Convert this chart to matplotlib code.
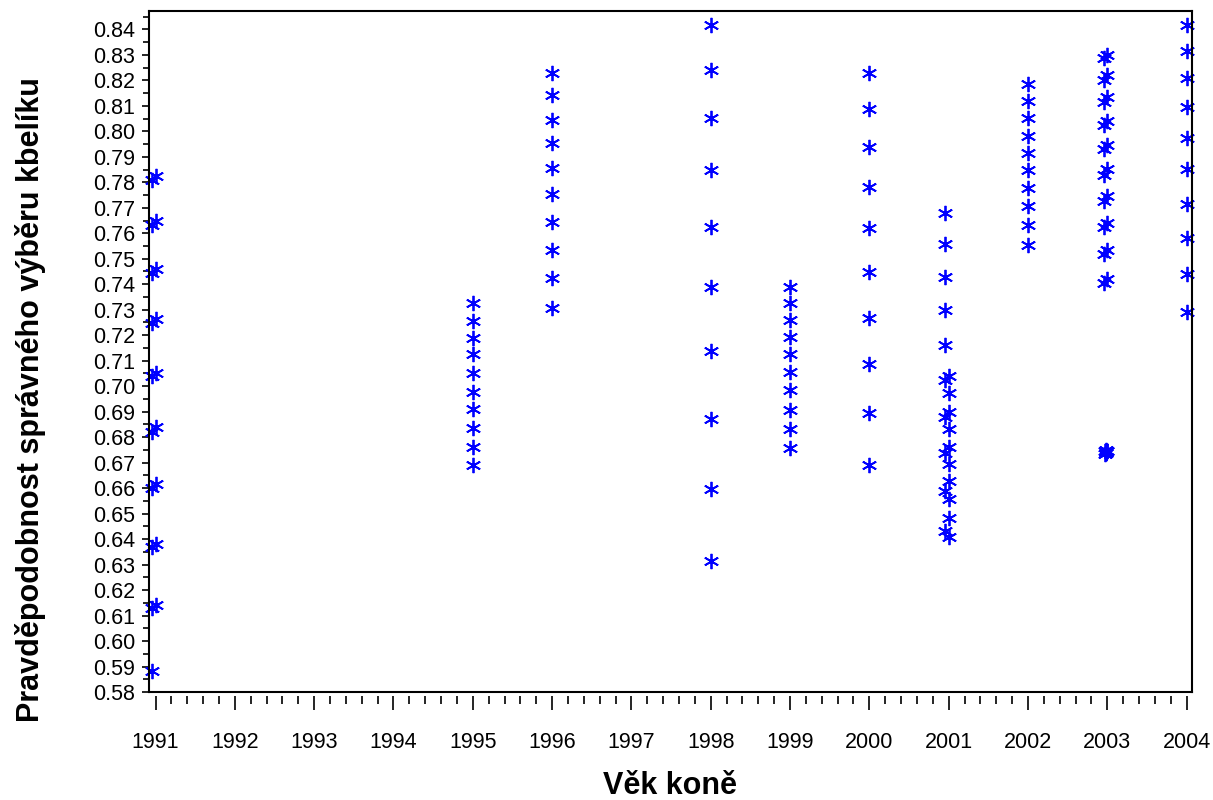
import numpy as np
import matplotlib
matplotlib.use('Agg')
import matplotlib.pyplot as plt
from matplotlib.ticker import MultipleLocator

plt.rcParams['font.family'] = ['Liberation Sans', 'DejaVu Sans']

# --- data ---
x_1991a = 1990.95
y_1991a = [0.7809, 0.7633, 0.7445, 0.7249, 0.7038, 0.6822, 0.6600, 0.6367, 0.6129, 0.5881]
x_1991b = 1991.0
y_1991b = [0.7825, 0.7648, 0.7459, 0.7264, 0.7053, 0.6838, 0.6616, 0.6382, 0.6142]

x_1995 = 1995.0
y_1995 = [0.7325, 0.7256, 0.7191, 0.7125, 0.7053, 0.6979, 0.6910, 0.6835, 0.6763, 0.6691]

x_1996 = 1996.0
y_1996 = [0.8230, 0.8142, 0.8046, 0.7953, 0.7855, 0.7753, 0.7645, 0.7534, 0.7424, 0.7306]

x_1998 = 1998.0
y_1998 = [0.8417, 0.8240, 0.8052, 0.7848, 0.7625, 0.7389, 0.7138, 0.6871, 0.6597, 0.6315]

x_1999 = 1999.0
y_1999 = [0.7389, 0.7327, 0.7260, 0.7193, 0.7127, 0.7056, 0.6986, 0.6907, 0.6832, 0.6758]

x_2000 = 2000.0
y_2000 = [0.8227, 0.8086, 0.7937, 0.7783, 0.7620, 0.7449, 0.7269, 0.7087, 0.6894, 0.6691]

x_2001a = 2000.96
y_2001a = [0.7681, 0.7558, 0.7430, 0.7299, 0.7162, 0.7025, 0.6881, 0.6737, 0.6587, 0.6430]
x_2001b = 2001.0
y_2001b = [0.7038, 0.6973, 0.6900, 0.6831, 0.6763, 0.6695, 0.6626, 0.6557, 0.6482, 0.6410]

x_2002 = 2002.0
y_2002 = [0.8184, 0.8119, 0.8053, 0.7983, 0.7916, 0.7848, 0.7779, 0.7707, 0.7633, 0.7554]

x_2003a = 2002.96
y_2003a = [0.8286, 0.8201, 0.8116, 0.8025, 0.7929, 0.7829, 0.7728, 0.7624, 0.7518, 0.7404]
x_2003b = 2003.0
y_2003b = [0.8299, 0.8221, 0.8133, 0.8040, 0.7946, 0.7851, 0.7746, 0.7642, 0.7535, 0.7420]
x_2003c = [2002.97, 2002.98, 2002.99, 2003.0, 2002.97, 2002.98, 2002.99, 2003.0]
y_2003c = [0.6735, 0.6738, 0.6741, 0.6744, 0.6747, 0.6750, 0.6739, 0.6745]

x_2004 = 2004.0
y_2004 = [0.8417, 0.8315, 0.8210, 0.8096, 0.7975, 0.7851, 0.7714, 0.7583, 0.7439, 0.7293]

groups = [
    (x_1991a, y_1991a), (x_1991b, y_1991b), (x_1995, y_1995), (x_1996, y_1996),
    (x_1998, y_1998), (x_1999, y_1999), (x_2000, y_2000), (x_2001a, y_2001a),
    (x_2001b, y_2001b), (x_2002, y_2002), (x_2003a, y_2003a), (x_2003b, y_2003b),
    (x_2003c, y_2003c), (x_2004, y_2004),
]

years = list(range(1991, 2005))
y_ticks = [round(0.58 + 0.01 * i, 2) for i in range(27)]

fig = plt.figure(figsize=(12.13, 8), dpi=100)
ax = fig.add_axes([0.1228, 0.135, 0.86, 0.8512])

for gx, gy in groups:
    xs = np.broadcast_to(np.asarray(gx, dtype=float), (len(gy),))
    ax.plot(xs, gy, linestyle='none', marker=(6, 2, 0), markersize=11,
            markeredgewidth=1.3, color='#0000ff', clip_on=False)

ax.set_xlim(1990.917, 2004.07)
ax.set_ylim(0.58, 0.8472)

ax.set_xticks(years)
ax.set_xticklabels([str(y) for y in years])
ax.xaxis.set_minor_locator(MultipleLocator(0.2))
ax.set_yticks(y_ticks)
ax.set_yticklabels([f'{v:.2f}' for v in y_ticks])
ax.yaxis.set_minor_locator(MultipleLocator(0.005))

ax.tick_params(axis='both', which='both', direction='out', colors='black',
               labelsize=15.5, width=1.2)
ax.tick_params(axis='y', which='major', length=5, pad=5)
ax.tick_params(axis='y', which='minor', length=4)
ax.tick_params(axis='x', which='major', length=10, pad=16)
ax.tick_params(axis='x', which='minor', length=6)

# ticks of the x axis sit a little below the frame
ax.spines['bottom'].set_position(('outward', 3))
ax.spines['bottom'].set_visible(False)
ax.plot([0, 1], [0, 0], transform=ax.transAxes, color='black', lw=1.5,
        clip_on=False)
for s in ['top', 'left', 'right']:
    ax.spines[s].set_linewidth(1.5)

fig.text(0.5527, 0.007, 'Věk koně', ha='center', va='baseline',
         fontsize=22, fontweight='bold')
fig.text(0.025, 0.5, 'Pravděpodobnost správného výběru kbelíku', rotation=90,
         ha='center', va='center', fontsize=22, fontweight='bold')

fig.savefig('out.png', dpi=100)
